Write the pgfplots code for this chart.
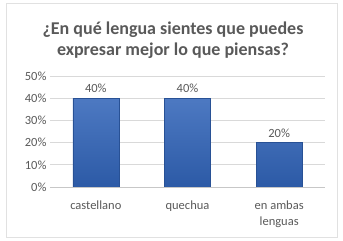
\documentclass[border=0pt]{standalone}
\usepackage{pgfplots}
\pgfplotsset{compat=1.18}
\usepackage{fontspec}
\setmainfont{Carlito}
\definecolor{txt}{HTML}{595959}
\definecolor{gridc}{HTML}{D9D9D9}
\definecolor{bartop}{HTML}{4D79C2}
\definecolor{barbot}{HTML}{2C5AA6}
\begin{document}
\begin{tikzpicture}[x=1pt,y=1pt]
\path[use as bounding box] (0,0) rectangle (343,241);
\draw[color=gridc!80, line width=0.8pt] (6,4) rectangle (337,238);
\node[font=\bfseries\fontsize{18}{20}\selectfont, text=txt] at (173,211) {¿En qué lengua sientes que puedes};
\node[font=\bfseries\fontsize{18}{20}\selectfont, text=txt] at (173,190) {expresar mejor lo que piensas?};
\begin{axis}[
  at={(50pt,54pt)}, anchor=south west,
  scale only axis, width=275pt, height=111pt,
  xmin=-0.5, xmax=2.5, ymin=0, ymax=50,
  xtick={0,1,2},
  xticklabels={castellano, quechua, {en ambas\\lenguas}},
  xticklabel style={align=center, font=\fontsize{12.5}{16}\selectfont, text=txt, yshift=-10pt},
  ytick={0,10,20,30,40,50},
  yticklabel={\pgfmathprintnumber{\tick}\%},
  yticklabel style={font=\fontsize{12.5}{14}\selectfont, text=txt},
  /pgf/number format/assume math mode=true,
  ymajorgrids, xmajorgrids=false, grid style={color=gridc, line width=0.6pt},
  axis line style={draw=none},
  major tick length=0pt,
  tick style={draw=none},
  ybar, bar width=46pt,
  nodes near coords={\pgfmathprintnumber{\pgfplotspointmeta}\%},
  nodes near coords style={font=\fontsize{12.5}{14}\selectfont, text=txt, yshift=2pt},
  clip=false,
]
\addplot[draw=barbot!90!black, line width=0.3pt, top color=bartop, bottom color=barbot] coordinates {(0,40) (1,40) (2,20)};
\draw[gridc!80!gray, line width=0.7pt] (axis cs:-0.5,0) -- (axis cs:2.5,0);
\end{axis}
\end{tikzpicture}
\end{document}
